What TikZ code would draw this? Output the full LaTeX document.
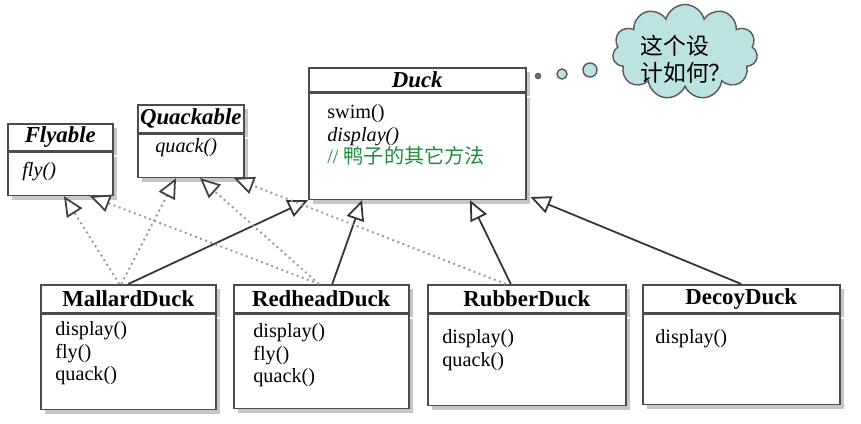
\documentclass[tikz,border=0pt]{standalone}
\usepackage{fontspec}
\setmainfont{Liberation Serif}
\newfontfamily\cjk{Noto Sans CJK SC}
\usetikzlibrary{arrows.meta,positioning,shapes.symbols,shadows}
\definecolor{cloudfill}{RGB}{188,226,226}
\definecolor{cmtgreen}{RGB}{30,140,60}
\tikzset{
  hdr/.style={draw=black!70, fill=white, line width=0.9pt, inner sep=0pt, anchor=north west,
    font=\fontsize{13}{14}\selectfont\bfseries,
    drop shadow={shadow xshift=2.5pt, shadow yshift=-2.5pt, opacity=0.45}},
  body/.style={draw=black!70, fill=white, line width=0.9pt, inner sep=0pt, anchor=north,
    drop shadow={shadow xshift=2.5pt, shadow yshift=-2.5pt, opacity=0.45}},
  meth/.style={anchor=north west, inner sep=0pt, align=left, font=\fontsize{11.5}{12.8}\selectfont},
  inh/.style={draw=black!80, line width=1pt, -{Triangle[fill=white, length=0.4cm, width=0.36cm]}},
  impl/.style={draw=black!40, dotted, line width=1.1pt,
    -{Triangle[fill=white, color=black!75, length=0.4cm, width=0.36cm, line width=1pt]}},
  bubble/.style={circle, draw=black!65, fill=cloudfill, line width=0.8pt, inner sep=0pt}
}
\begin{document}
\begin{tikzpicture}[x=0.02cm, y=-0.02cm]
\useasboundingbox (0,0) rectangle (861,423);
\node[hdr, font=\fontsize{13}{14}\selectfont\bfseries\itshape, minimum width=2.1cm, minimum height=0.54cm] (fly) at (7,123) {Flyable};
\node[body, minimum width=2.1cm, minimum height=0.86cm] (flyb) at (fly.south) {};
\node[meth] (flym) at ([shift={(15,10)}]flyb.north west) {\itshape fly()};
\node[hdr, font=\fontsize{13}{14}\selectfont\bfseries\itshape, minimum width=2.12cm, minimum height=0.56cm] (quack) at (137,104) {Quackable};
\node[body, minimum width=2.12cm, minimum height=0.86cm] (quackb) at (quack.south) {};
\node[meth] (quackm) at ([shift={(18,5)}]quackb.north west) {\itshape quack()};
\node[hdr, font=\fontsize{13}{14}\selectfont\bfseries\itshape, minimum width=4.34cm, minimum height=0.48cm] (duck) at (308,67) {Duck};
\node[body, minimum width=4.34cm, minimum height=2.12cm] (duckb) at (duck.south) {};
\node[meth] (duckm) at ([shift={(19,12)}]duckb.north west) {swim()\\\textit{display()}\\\textcolor{cmtgreen}{// {\cjk 鸭子的其它方法}}};
\node[hdr, minimum width=3.5cm, minimum height=0.56cm] (mallard) at (40,284) {MallardDuck};
\node[body, minimum width=3.5cm, minimum height=1.9cm] (mallardb) at (mallard.south) {};
\node[meth] (mallardm) at ([shift={(15,8)}]mallardb.north west) {display()\\fly()\\quack()};
\node[hdr, minimum width=3.5cm, minimum height=0.56cm] (redhead) at (233,284) {RedheadDuck};
\node[body, minimum width=3.5cm, minimum height=1.88cm] (redheadb) at (redhead.south) {};
\node[meth] (redheadm) at ([shift={(20,10)}]redheadb.north west) {display()\\fly()\\quack()};
\node[hdr, minimum width=3.96cm, minimum height=0.56cm] (rubber) at (427,284) {RubberDuck};
\node[body, minimum width=3.96cm, minimum height=1.82cm] (rubberb) at (rubber.south) {};
\node[meth] (rubberm) at ([shift={(15,16)}]rubberb.north west) {display()\\quack()};
\node[hdr, minimum width=3.94cm, minimum height=0.56cm] (decoy) at (642,284) {DecoyDuck};
\node[body, minimum width=3.94cm, minimum height=1.8cm] (decoyb) at (decoy.south) {};
\node[meth] (decoym) at ([shift={(13,16)}]decoyb.north west) {display()};
\draw[inh] (mallard.north) -- (duckb.south west);
\draw[inh] ([xshift=0.22cm]redhead.north) -- ([xshift=1.08cm]duckb.south west);
\draw[inh] ([xshift=-0.32cm]rubber.north) -- ([xshift=3.24cm]duckb.south west);
\draw[inh] (decoy.north) -- ([xshift=0.08cm, yshift=0.06cm]duckb.south east);
\draw[impl] ([xshift=-0.18cm]mallard.north) -- ([xshift=1.14cm]flyb.south west);
\draw[impl] ([xshift=-0.05cm]redhead.north) -- ([xshift=1.66cm]flyb.south west);
\draw[impl] ([xshift=-0.14cm]mallard.north) -- ([xshift=0.78cm]quackb.south west);
\draw[impl] ([xshift=-0.05cm]redhead.north) -- ([xshift=1.26cm]quackb.south west);
\draw[impl] ([xshift=-0.42cm]rubber.north) -- ([xshift=1.94cm]quackb.south west);
\node[bubble, fill=black!55, minimum size=0.1cm] (think1) at (538,76) {};
\node[bubble, minimum size=0.2cm] (think2) at (562,74) {};
\node[bubble, minimum size=0.28cm] (think3) at (590,70) {};
\node[cloud, cloud puffs=11, aspect=1.5, draw=black!65, fill=cloudfill, line width=0.8pt,
  minimum width=2.9cm, minimum height=1.9cm, inner sep=0pt] (think) at (685,52) {};
\node[align=left, inner sep=0pt, font=\cjk\fontsize{13}{15.3}\selectfont] (thinkt) at (686,59) {这个设\\计如何？};
\end{tikzpicture}
\end{document}
